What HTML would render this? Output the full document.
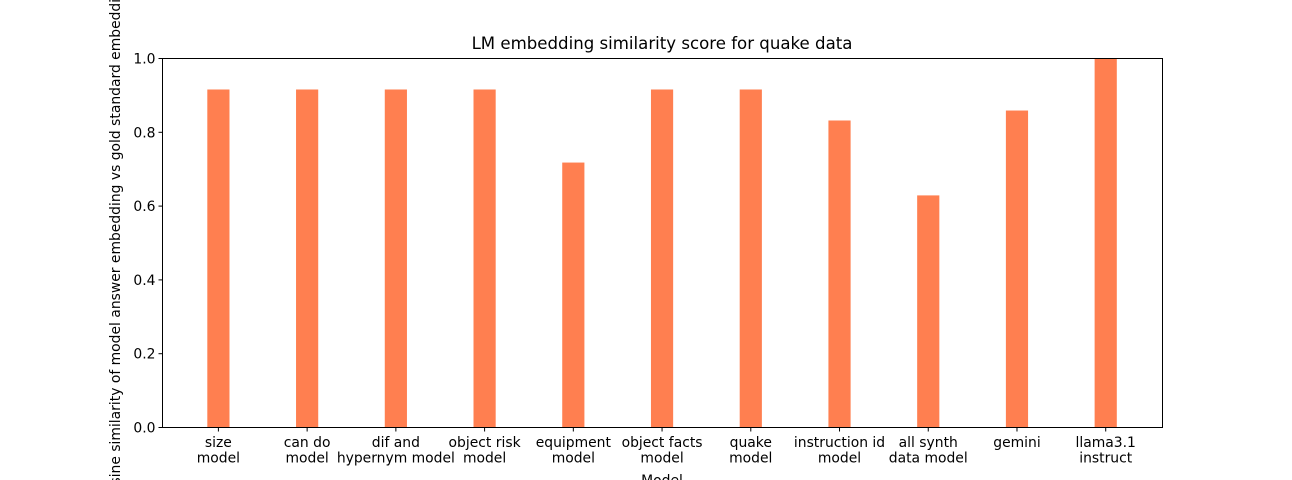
<!DOCTYPE html>
<html><head><meta charset="utf-8"><style>
body{margin:0;background:#fff;}
svg{display:block;font-family:"DejaVu Sans","Liberation Sans",sans-serif;}
</style></head><body>
<svg id="chart" width="1292" height="480" xmlns="http://www.w3.org/2000/svg">
<rect width="1292" height="480" fill="#fff"/>
<text x="662" y="49" font-size="16.6" text-anchor="middle">LM embedding similarity score for quake data</text>
<g id="bars"></g>
<g id="yticks"></g>
<g id="xticks"></g>
<rect x="162.5" y="58.5" width="1000" height="369" fill="none" stroke="#000" stroke-width="1"/>
<text transform="translate(120,242) rotate(-90)" font-size="13.9" text-anchor="middle">Cosine similarity of model answer embedding vs gold standard embedding</text>
<text x="662" y="485" font-size="13.9" text-anchor="middle">Model</text>
</svg>
<script>
const categories=[["size","model"],["can do","model"],["dif and","hypernym model"],["object risk","model"],["equipment","model"],["object facts","model"],["quake","model"],["instruction id","model"],["all synth","data model"],["gemini"],["llama3.1","instruct"]];
const values=[0.916,0.916,0.916,0.916,0.718,0.916,0.916,0.832,0.629,0.859,1.0];
const yTicks=[0,0.2,0.4,0.6,0.8,1.0];
const yTickLabels=["0.0","0.2","0.4","0.6","0.8","1.0"];
const NS="http://www.w3.org/2000/svg";
const x0=162.5,x1=1162.5,yb=427.5,yt=58.5;
const xmin=-0.63,xmax=10.64;
function xs(i){return x0+(i-xmin)/(xmax-xmin)*(x1-x0);}
function ys(v){return yb-v*(yb-yt);}
const bw=0.25*(x1-x0)/(xmax-xmin);
const gb=document.getElementById('bars'),gy=document.getElementById('yticks'),gx=document.getElementById('xticks');
values.forEach((v,i)=>{
 const r=document.createElementNS(NS,'rect');
 r.setAttribute('x',xs(i)-bw/2);r.setAttribute('y',ys(v));r.setAttribute('width',bw);r.setAttribute('height',yb-ys(v));r.setAttribute('fill','#ff7f50');
 
 
 gb.appendChild(r);
});
yTicks.forEach((t,k)=>{
 const l=document.createElementNS(NS,'line');
 l.setAttribute('x1',x0-4);l.setAttribute('x2',x0);l.setAttribute('y1',ys(t));l.setAttribute('y2',ys(t));l.setAttribute('stroke','#000');
 
 
 gy.appendChild(l);
 const tx=document.createElementNS(NS,'text');
 tx.setAttribute('x',x0-7);tx.setAttribute('y',ys(t)+5);tx.setAttribute('text-anchor','end');tx.setAttribute('font-size','13.9');
 tx.textContent=yTickLabels[k];
 
 
 gy.appendChild(tx);
});
categories.forEach((c,i)=>{
 const l=document.createElementNS(NS,'line');
 l.setAttribute('x1',xs(i));l.setAttribute('x2',xs(i));l.setAttribute('y1',yb);l.setAttribute('y2',yb+4);l.setAttribute('stroke','#000');
 
 
 gx.appendChild(l);
 c.forEach((line,j)=>{
  const tx=document.createElementNS(NS,'text');
  tx.setAttribute('x',xs(i));tx.setAttribute('y',447+j*15.5);tx.setAttribute('text-anchor','middle');tx.setAttribute('font-size','13.9');
  tx.textContent=line;
  
  
  gx.appendChild(tx);
 });
});
</script>
</body></html>
